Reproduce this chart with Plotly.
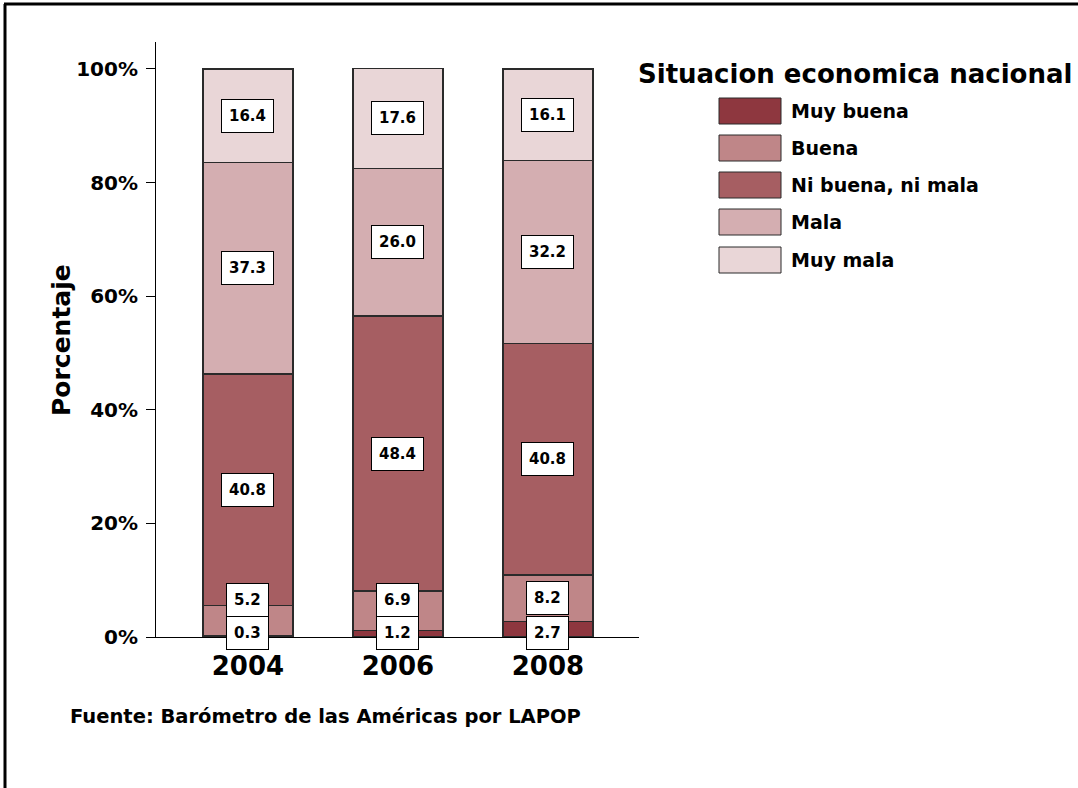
import plotly.graph_objects as go

years = ["2004", "2006", "2008"]
categories = ["Muy buena", "Buena", "Ni buena, ni mala", "Mala", "Muy mala"]
muy_buena = [0.3, 1.2, 2.7]
buena = [5.2, 6.9, 8.2]
ni_buena_ni_mala = [40.8, 48.4, 40.8]
mala = [37.3, 26.0, 32.2]
muy_mala = [16.4, 17.6, 16.1]
y_ticks = [0, 20, 40, 60, 80, 100]
y_tick_labels = ["0%", "20%", "40%", "60%", "80%", "100%"]
legend_title = "Situacion economica nacional"
y_title = "Porcentaje"
source_note = "Fuente: Barómetro de las Américas por LAPOP"

series = [muy_buena, buena, ni_buena_ni_mala, mala, muy_mala]
colors = ["#8E373F", "#BF8688", "#A65E62", "#D4AEB1", "#E9D6D7"]

FONT = "DejaVu Sans, Liberation Sans, Arial, sans-serif"

fig = go.Figure()
for name, vals, col in zip(categories, series, colors):
    fig.add_trace(go.Bar(
        x=years, y=vals, name=name,
        marker=dict(color=col, line=dict(color="#2a2a2a", width=1.2)),
        width=0.6, showlegend=False, hoverinfo="skip",
    ))

annotations = []
for j, yr in enumerate(years):
    cum = 0
    prev_label = None
    for i, vals in enumerate(series):
        v = vals[j]
        mid = cum + v / 2
        if i == 0:
            ly = 0.7
        elif i == 1:
            ly = max(mid, prev_label + 5.8)
        else:
            ly = mid
        prev_label = ly
        cum += v
        annotations.append(dict(
            x=j, y=ly, xref="x", yref="y", text=f"{v:.1f}", showarrow=False,
            xanchor="center", yanchor="middle",
            font=dict(family=FONT, size=15, color="black", weight="bold"),
            bgcolor="white", bordercolor="black", borderwidth=1, borderpad=7,
        ))

W = 483.0
H = 595.0
def px_x(px):
    return (px - 156) / W
def px_y(py):
    return (637 - py) / H

# y-axis title
annotations.append(dict(
    x=px_x(61), y=px_y(340), xref="paper", yref="paper", text=y_title, textangle=-90,
    xanchor="center", yanchor="middle",
    showarrow=False, font=dict(family=FONT, size=25, color="black", weight="bold"),
))
# source note
annotations.append(dict(
    x=px_x(325), y=px_y(716), xref="paper", yref="paper", text=source_note,
    xanchor="center", yanchor="middle", showarrow=False,
    font=dict(family=FONT, size=19.5, color="black", weight="bold"),
))

# manual legend
annotations.append(dict(
    x=px_x(855), y=px_y(74), xref="paper", yref="paper", text=legend_title,
    xanchor="center", yanchor="middle",
    showarrow=False, font=dict(family=FONT, size=26, color="black", weight="bold"),
))
shapes = []
row_centers = [111, 148, 185, 222, 260]
for name, col, cy in zip(categories, colors, row_centers):
    shapes.append(dict(
        type="rect", xref="paper", yref="paper",
        x0=px_x(719), x1=px_x(781), y0=px_y(cy - 13), y1=px_y(cy + 13),
        fillcolor=col, line=dict(color="#2a2a2a", width=1),
    ))
    annotations.append(dict(
        x=px_x(789), y=px_y(cy), xref="paper", yref="paper", text=name,
        xanchor="left", yanchor="middle", showarrow=False,
        font=dict(family=FONT, size=19, color="black", weight="bold"),
    ))

# outer frame (top and left edges visible)
shapes.append(dict(type="line", xref="paper", yref="paper",
                   x0=px_x(4), x1=px_x(1100), y0=px_y(4), y1=px_y(4),
                   line=dict(color="black", width=3)))
shapes.append(dict(type="line", xref="paper", yref="paper",
                   x0=px_x(5), x1=px_x(5), y0=px_y(4), y1=px_y(800),
                   line=dict(color="black", width=3)))

fig.update_layout(
    barmode="stack",
    width=1078, height=788,
    margin=dict(l=156, r=439, t=42, b=151),
    plot_bgcolor="white", paper_bgcolor="white",
    showlegend=False,
    annotations=annotations,
    shapes=shapes,
    xaxis=dict(
        type="category", range=[-0.613, 2.607],
        showline=True, linecolor="black", linewidth=1,
        ticks="", showgrid=False, zeroline=False,
        tickfont=dict(family=FONT, size=26, color="black", weight="bold"),
        ticklabelstandoff=6,
    ),
    yaxis=dict(
        range=[0, 104.75], tickvals=y_ticks, ticktext=y_tick_labels,
        showline=True, linecolor="black", linewidth=1,
        ticks="outside", ticklen=9, tickcolor="black",
        showgrid=False, zeroline=False,
        tickfont=dict(family=FONT, size=20, color="black", weight="bold"),
        ticklabelstandoff=4,
    ),
)

fig.write_html("out.html", config={"displayModeBar": False},
               post_script="document.body.style.margin='0';document.body.style.padding='0';")
